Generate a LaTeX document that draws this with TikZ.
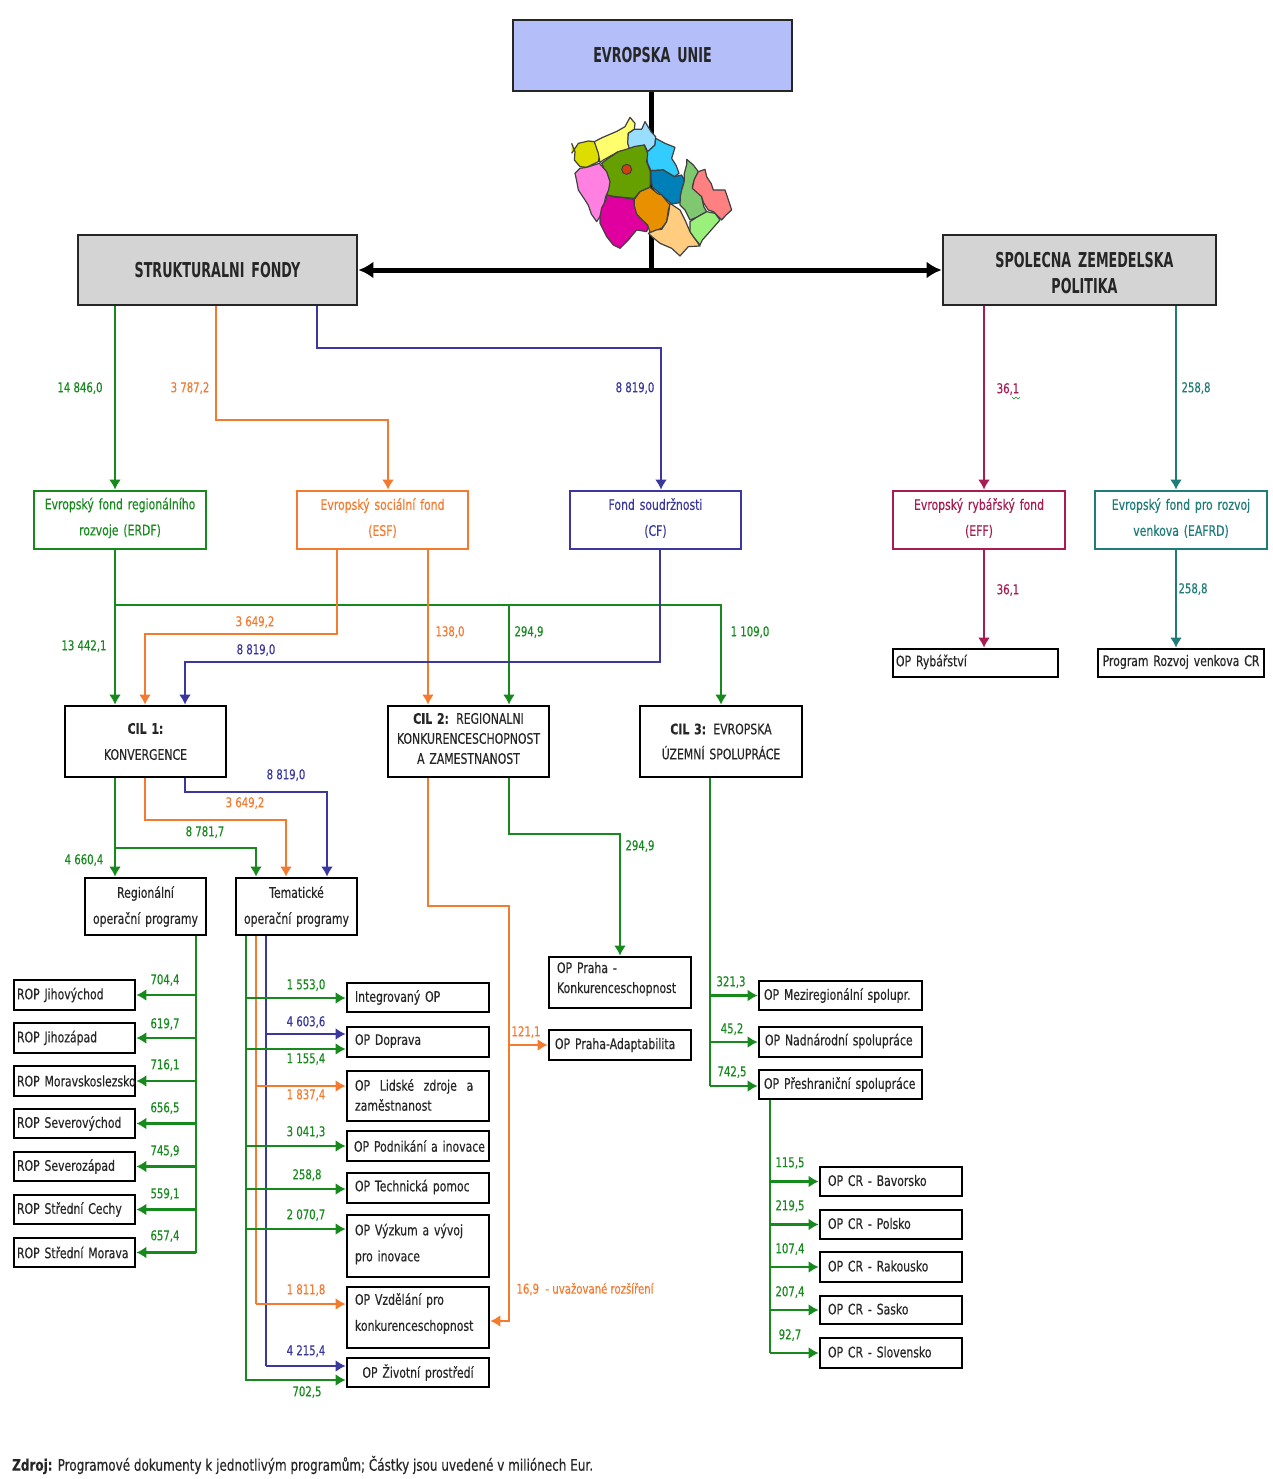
\documentclass[tikz,border=0pt]{standalone}
\usepackage{fontspec}
\setmainfont[FakeStretch=0.75,FakeBold=0.35]{DejaVu Sans}
\newfontfamily\titlefont[FakeStretch=0.62]{DejaVu Sans}
\usetikzlibrary{arrows.meta,decorations.pathmorphing}
\definecolor{grn}{HTML}{178A1E}
\definecolor{org}{HTML}{F47A30}
\definecolor{blu}{HTML}{3A389E}
\definecolor{crm}{HTML}{A81C52}
\definecolor{tea}{HTML}{1F7C78}
\tikzset{
  >={Latex[length=10pt,width=12pt]},
  flow/.style={line width=2.4pt},
  val/.style={inner sep=0pt,font=\fontsize{13.5}{16}\selectfont},
  bx/.style={draw,line width=2.8pt,inner ysep=0pt,inner xsep=3pt,text=black!85,font=\fontsize{14.5}{26}\selectfont},
  tight/.style={font=\fontsize{14.5}{20}\selectfont},
  lft/.style={align=left},
  ctr/.style={align=center},
  title/.style={ctr,line width=2.8pt,draw=black!85,font=\titlefont\bfseries\fontsize{20.5}{26}\selectfont},
  region/.style={draw=black!75,line width=1.2pt,line join=round,decorate,decoration={random steps,segment length=9pt,amplitude=1.2pt}}
}
% style, name, x1, y1, x2, y2, text
\newcommand{\boxnode}[7]{\node[bx,#1,minimum width={#5-#3},minimum height={#6-#4},text width={#5-#3-6}] (#2) at ({(#3+#5)/2},{(#4+#6)/2}) {#7};}
\newcommand{\upby}[1]{\par\vspace*{#1}}
\begin{document}
\begin{tikzpicture}[x=1pt,y=-1pt]
  \useasboundingbox (0,0) rectangle (1273,1479);
  % top boxes
  \boxnode{title,fill={rgb,255:red,180;green,190;blue,248}}{eu}{513}{20}{792}{91}{EVROPSKA UNIE}
  \boxnode{title,fill=black!17}{sf}{78}{235}{357}{305}{STRUKTURALNI FONDY}
  \boxnode{title,fill=black!17}{szp}{943}{235}{1216}{305}{\hspace*{10pt}SPOLECNA ZEMEDELSKA\\\hspace*{10pt}POLITIKA\upby{-7pt}}
  \coordinate (mid) at (651,270);
  % thick connectors
  \draw[line width=5pt] (eu.south -| mid) -- (mid);
  \draw[{Latex[length=15pt,width=17pt]}-{Latex[length=15pt,width=17pt]},line width=5pt] (sf.east |- mid) -- (szp.west |- mid);
  % map
  \pgfmathsetseed{7}
  \begin{scope}[shift={(565,110)},x=0.3333pt,y=-0.3333pt]
    \filldraw[region,fill={rgb,255:red,221;green,221;blue,0}] (20,100) -- (30,125) -- (28,150) -- (45,170) -- (65,172) -- (100,155) -- (105,130) -- (88,95) -- (70,93) -- (40,100) -- (30,115) -- cycle;
    \filldraw[region,fill={rgb,255:red,255;green,255;blue,110}] (88,95) -- (130,75) -- (180,50) -- (195,22) -- (210,40) -- (208,58) -- (190,70) -- (190,100) -- (195,120) -- (160,125) -- (115,150) -- (105,158) -- (100,130) -- cycle;
    \filldraw[region,fill={rgb,255:red,153;green,221;blue,255}] (190,70) -- (208,58) -- (230,58) -- (240,35) -- (258,65) -- (272,80) -- (270,105) -- (248,125) -- (238,105) -- (195,122) -- (188,100) -- cycle;
    \filldraw[region,fill={rgb,255:red,51;green,204;blue,255}] (248,125) -- (270,105) -- (272,85) -- (300,100) -- (330,112) -- (320,145) -- (342,190) -- (328,200) -- (295,180) -- (258,182) -- (248,160) -- (243,135) -- cycle;
    \filldraw[region,fill={rgb,255:red,0;green,128;blue,184}] (258,182) -- (295,180) -- (328,200) -- (350,195) -- (358,210) -- (345,278) -- (320,282) -- (290,255) -- (262,232) -- (258,205) -- cycle;
    \filldraw[region,fill={rgb,255:red,102;green,160;blue,0}] (238,105) -- (248,130) -- (245,155) -- (256,185) -- (255,232) -- (225,245) -- (208,265) -- (170,262) -- (125,255) -- (128,215) -- (110,160) -- (160,125) -- cycle;
    \filldraw[draw=black!75,line width=1pt,fill={rgb,255:red,208;green,64;blue,16}] (185,178) circle (5pt);
    \filldraw[region,fill={rgb,255:red,255;green,128;blue,224}] (30,190) -- (45,175) -- (65,172) -- (103,160) -- (125,185) -- (135,215) -- (122,260) -- (105,320) -- (95,335) -- (60,270) -- (40,240) -- cycle;
    \filldraw[region,fill={rgb,255:red,224;green,0;blue,160}] (125,255) -- (170,262) -- (205,268) -- (215,310) -- (250,350) -- (245,365) -- (215,360) -- (190,390) -- (165,415) -- (145,405) -- (125,380) -- (105,340) -- (105,320) -- cycle;
    \filldraw[region,fill={rgb,255:red,232;green,144;blue,0}] (208,268) -- (225,245) -- (255,232) -- (290,255) -- (315,285) -- (310,300) -- (305,335) -- (290,355) -- (255,368) -- (248,345) -- (215,312) -- cycle;
    \filldraw[region,fill={rgb,255:red,255;green,204;blue,128}] (315,280) -- (345,300) -- (360,330) -- (375,365) -- (405,408) -- (370,410) -- (345,438) -- (320,415) -- (285,400) -- (250,370) -- (290,358) -- (305,335) -- cycle;
    \filldraw[region,fill={rgb,255:red,128;green,200;blue,112}] (365,148) -- (385,165) -- (400,185) -- (382,230) -- (410,260) -- (425,305) -- (395,322) -- (375,330) -- (360,300) -- (345,285) -- (350,240) -- (358,190) -- cycle;
    \filldraw[region,fill={rgb,255:red,255;green,128;blue,128}] (400,185) -- (420,178) -- (425,200) -- (445,240) -- (480,240) -- (500,300) -- (470,330) -- (445,305) -- (430,300) -- (410,260) -- (382,235) -- cycle;
    \filldraw[region,fill={rgb,255:red,153;green,240;blue,122}] (375,335) -- (395,322) -- (425,305) -- (450,310) -- (465,330) -- (430,370) -- (405,405) -- (375,365) -- cycle;
  \end{scope}
  % funds
  \boxnode{ctr,draw=grn,text=grn}{erdf}{34}{491}{206}{549}{Evropský fond regionálního\\rozvoje (ERDF)\upby{4pt}}
  \boxnode{ctr,draw=org,text=org}{esf}{297}{491}{468}{549}{Evropský sociální fond\\(ESF)\upby{4pt}}
  \boxnode{ctr,draw=blu,text=blu}{cf}{570}{491}{741}{549}{Fond soudržnosti\\(CF)\upby{4pt}}
  \boxnode{ctr,draw=crm,text=crm}{eff}{893}{491}{1065}{549}{Evropský rybářský fond\\(EFF)\upby{4pt}}
  \boxnode{ctr,draw=tea,text=tea}{eafrd}{1095}{491}{1267}{549}{Evropský fond pro rozvoj\\venkova (EAFRD)\upby{4pt}}
  \boxnode{lft}{opRyb}{893}{649}{1058}{677}{OP Rybářství\upby{2pt}}
  \boxnode{ctr}{prv}{1098}{649}{1264}{677}{Program Rozvoj venkova CR\upby{2pt}}
  % goals
  \boxnode{ctr}{cilA}{65}{706}{226}{777}{\textbf{CIL 1:}\\KONVERGENCE}
  \boxnode{ctr,tight}{cilB}{388}{706}{549}{777}{\textbf{CIL 2:} REGIONALNI\\KONKURENCESCHOPNOST\\A ZAMESTNANOST\upby{6pt}}
  \boxnode{ctr,font=\fontsize{14.5}{25}\selectfont}{cilC}{640}{706}{802}{777}{\textbf{CIL 3:} EVROPSKA\\ÚZEMNÍ SPOLUPRÁCE}
  \boxnode{ctr}{rop}{85}{878}{206}{935}{Regionální\\operační programy}
  \boxnode{ctr}{top}{236}{878}{357}{935}{Tematické\\operační programy}
  % thematic programmes
  \boxnode{lft}{opInt}{347}{983}{489}{1012}{\hspace*{5pt}Integrovaný OP}
  \boxnode{lft}{opDop}{347}{1027}{489}{1057}{\hspace*{5pt}OP Doprava\upby{2pt}}
  \boxnode{lft,tight}{opLid}{347}{1071}{489}{1121}{\hspace*{5pt}OP\ \ Lidské\ \ zdroje\ \ a\\\hspace*{5pt}zaměstnanost\upby{2pt}}
  \boxnode{lft}{opPod}{347}{1131}{489}{1161}{\hspace*{4pt}OP Podnikání a inovace}
  \boxnode{lft}{opTec}{347}{1173}{489}{1203}{\hspace*{5pt}OP Technická pomoc\upby{2pt}}
  \boxnode{lft}{opVyz}{347}{1215}{489}{1277}{\hspace*{5pt}OP Výzkum a vývoj\\\hspace*{5pt}pro inovace\upby{4pt}}
  \boxnode{lft}{opVzd}{347}{1287}{489}{1348}{\hspace*{5pt}OP Vzdělání pro\\\hspace*{5pt}konkurenceschopnost\upby{8pt}}
  \boxnode{ctr}{opZiv}{347}{1358}{489}{1387}{OP Životní prostředí}
  \boxnode{lft,tight}{opKon}{549}{957}{691}{1008}{\hspace*{5pt}OP Praha -\\\hspace*{5pt}Konkurenceschopnost\upby{7pt}}
  \boxnode{lft}{opAda}{549}{1030}{691}{1060}{\hspace*{3pt}OP Praha-Adaptabilita}
  \boxnode{lft}{opMez}{759}{981}{922}{1010}{\hspace*{2pt}OP Meziregionální spolupr.}
  \boxnode{lft}{opNad}{759}{1027}{922}{1057}{\hspace*{3pt}OP Nadnárodní spolupráce\upby{2pt}}
  \boxnode{lft}{opPre}{759}{1070}{922}{1099}{\hspace*{2pt}OP Přeshraniční spolupráce}
  % regional programmes
  \draw[flow,grn] (196,0 |- rop.south) -- (196,1253);
  \foreach \i/\name/\ya/\yb/\vy/\val in {1/ROP Jihovýchod/980/1010/980/{704,4},2/ROP Jihozápad/1023/1053/1024/{619,7},3/ROP Moravskoslezsko/1066/1096/1065/{716,1},4/ROP Severovýchod/1109/1138/1108/{656,5},5/ROP Severozápad/1152/1181/1151/{745,9},6/ROP Střední Cechy/1195/1224/1194/{559,1},7/ROP Střední Morava/1238/1267/1236/{657,4}} {
    \boxnode{lft}{rop\i}{14}{\ya}{135}{\yb}{\mbox{\name}}
    \draw[flow,grn,->] (196,0 |- rop\i.east) -- (rop\i.east);
    \node[val,text=grn] (vRop\i) at (165,\vy) {\val};
  }
  % cross-border programmes
  \draw[flow,grn] (770,0 |- opPre.south) -- (770,1353);
  \foreach \i/\name/\ya/\yb/\vy/\val in {1/Bavorsko/1167/1196/1163/{115,5},2/Polsko/1210/1239/1206/{219,5},3/Rakousko/1252/1282/1249/{107,4},4/Sasko/1296/1324/1292/{207,4},5/Slovensko/1338/1368/1335/{92,7}} {
    \boxnode{lft}{cr\i}{820}{\ya}{962}{\yb}{\hspace*{5pt}OP CR - \name\upby{2pt}}
    \draw[flow,grn,->] (770,0 |- cr\i.west) -- (cr\i.west);
    \node[val,text=grn] (vCr\i) at (790,\vy) {\val};
  }
  % structural funds
  \draw[flow,grn,->] (115,0 |- sf.south) -- (115,0 |- erdf.north);
  \draw[flow,org,->] (216,0 |- sf.south) -- (216,420) -- (388,420) -- (388,0 |- esf.north);
  \draw[flow,blu,->] (317,0 |- sf.south) -- (317,348) -- (661,348) -- (661,0 |- cf.north);
  \draw[flow,crm,->] (984,0 |- szp.south) -- (984,0 |- eff.north);
  \draw[flow,tea,->] (1176,0 |- szp.south) -- (1176,0 |- eafrd.north);
  \draw[flow,crm,->] (984,0 |- eff.south) -- (984,0 |- opRyb.north);
  \draw[flow,tea,->] (1176,0 |- eafrd.south) -- (1176,0 |- prv.north);
  % funds to goals
  \draw[flow,grn,->] (115,0 |- erdf.south) -- (115,0 |- cilA.north);
  \draw[flow,grn,->] (115,605) -- (721,605) -- (721,0 |- cilC.north);
  \draw[flow,grn,->] (509,605) -- (509,0 |- cilB.north);
  \draw[flow,org,->] (337,0 |- esf.south) -- (337,634) -- (145,634) -- (145,0 |- cilA.north);
  \draw[flow,org,->] (428,0 |- esf.south) -- (428,0 |- cilB.north);
  \draw[flow,blu,->] (660,0 |- cf.south) -- (660,662) -- (185,662) -- (185,0 |- cilA.north);
  % goal 1
  \draw[flow,grn,->] (115,0 |- cilA.south) -- (115,0 |- rop.north);
  \draw[flow,grn,->] (115,848) -- (256,848) -- (256,0 |- top.north);
  \draw[flow,org,->] (145,0 |- cilA.south) -- (145,820) -- (286,820) -- (286,0 |- top.north);
  \draw[flow,blu,->] (185,0 |- cilA.south) -- (185,792) -- (327,792) -- (327,0 |- top.north);
  % goal 2
  \draw[flow,org,->] (428,0 |- cilB.south) -- (428,906) -- (509,906) -- (509,1321) -- (opVzd.east |- 0,1321);
  \draw[flow,org,->] (509,1045) -- (opAda.west);
  \draw[flow,grn,->] (509,0 |- cilB.south) -- (509,834) -- (620,834) -- (620,0 |- opKon.north);
  % goal 3
  \draw[flow,grn] (710,0 |- cilC.south) -- (710,1086);
  \draw[flow,grn,->] (710,0 |- opMez.west) -- (opMez.west);
  \draw[flow,grn,->] (710,0 |- opNad.west) -- (opNad.west);
  \draw[flow,grn,->] (710,1086) -- (opPre.west |- 0,1086);
  % thematic trunks
  \draw[flow,grn,->] (246,0 |- top.south) -- (246,1380) -- (opZiv.west |- 0,1380);
  \draw[flow,org] (256,0 |- top.south) -- (256,1304);
  \draw[flow,blu] (266,0 |- top.south) -- (266,1366);
  \draw[flow,grn,->] (246,998) -- (opInt.west |- 0,998);
  \draw[flow,blu,->] (266,1034) -- (opDop.west |- 0,1034);
  \draw[flow,grn,->] (246,1049) -- (opDop.west |- 0,1049);
  \draw[flow,org,->] (256,1086) -- (opLid.west |- 0,1086);
  \draw[flow,grn,->] (246,1146) -- (opPod.west |- 0,1146);
  \draw[flow,grn,->] (246,1189) -- (opTec.west |- 0,1189);
  \draw[flow,grn,->] (246,1229) -- (opVyz.west |- 0,1229);
  \draw[flow,org,->] (256,1304) -- (opVzd.west |- 0,1304);
  \draw[flow,blu,->] (266,1366) -- (opZiv.west |- 0,1366);
  % amounts
  \node[val,text=grn] (v1) at (80,388) {14 846,0};
  \node[val,text=org] (v2) at (190,388) {3 787,2};
  \node[val,text=blu] (v3) at (635,388) {8 819,0};
  \node[val,text=crm] (v4) at (1008,389) {36,1};
  \draw[grn,line width=0.6pt] (1012,397) -- (1014,399) -- (1016,397) -- (1018,399) -- (1020,397);
  \node[val,text=tea] (v5) at (1196,388) {258,8};
  \node[val,text=crm] (v6) at (1008,590) {36,1};
  \node[val,text=tea] (v7) at (1193,589) {258,8};
  \node[val,text=grn] (v8) at (84,646) {13 442,1};
  \node[val,text=org] (v9) at (255,622) {3 649,2};
  \node[val,text=blu] (v10) at (256,650) {8 819,0};
  \node[val,text=org] (v11) at (450,632) {138,0};
  \node[val,text=grn] (v12) at (529,632) {294,9};
  \node[val,text=grn] (v13) at (750,632) {1 109,0};
  \node[val,text=blu] (v14) at (286,775) {8 819,0};
  \node[val,text=org] (v15) at (245,803) {3 649,2};
  \node[val,text=grn] (v16) at (205,832) {8 781,7};
  \node[val,text=grn] (v17) at (84,860) {4 660,4};
  \node[val,text=grn] (v18) at (640,846) {294,9};
  \node[val,text=grn] (v19) at (306,985) {1 553,0};
  \node[val,text=blu] (v20) at (306,1022) {4 603,6};
  \node[val,text=grn] (v21) at (306,1059) {1 155,4};
  \node[val,text=org] (v22) at (306,1095) {1 837,4};
  \node[val,text=grn] (v23) at (306,1132) {3 041,3};
  \node[val,text=grn] (v24) at (307,1175) {258,8};
  \node[val,text=grn] (v25) at (306,1215) {2 070,7};
  \node[val,text=org] (v26) at (306,1290) {1 811,8};
  \node[val,text=blu] (v27) at (306,1351) {4 215,4};
  \node[val,text=grn] (v28) at (307,1392) {702,5};
  \node[val,text=org] (v29) at (526,1032) {121,1};
  \node[val,text=org] (v30) at (585,1289) {16,9\ \ - uvažované rozšíření};
  \node[val,text=grn] (v31) at (731,982) {321,3};
  \node[val,text=grn] (v32) at (732,1029) {45,2};
  \node[val,text=grn] (v33) at (732,1072) {742,5};
  % source
  \node[anchor=west,inner sep=0pt,text=black!85,font=\fontsize{16}{18}\selectfont] (src) at (12,1465) {\textbf{Zdroj:} Programové dokumenty k jednotlivým programům; Částky jsou uvedené v miliónech Eur.};
\end{tikzpicture}
\end{document}
